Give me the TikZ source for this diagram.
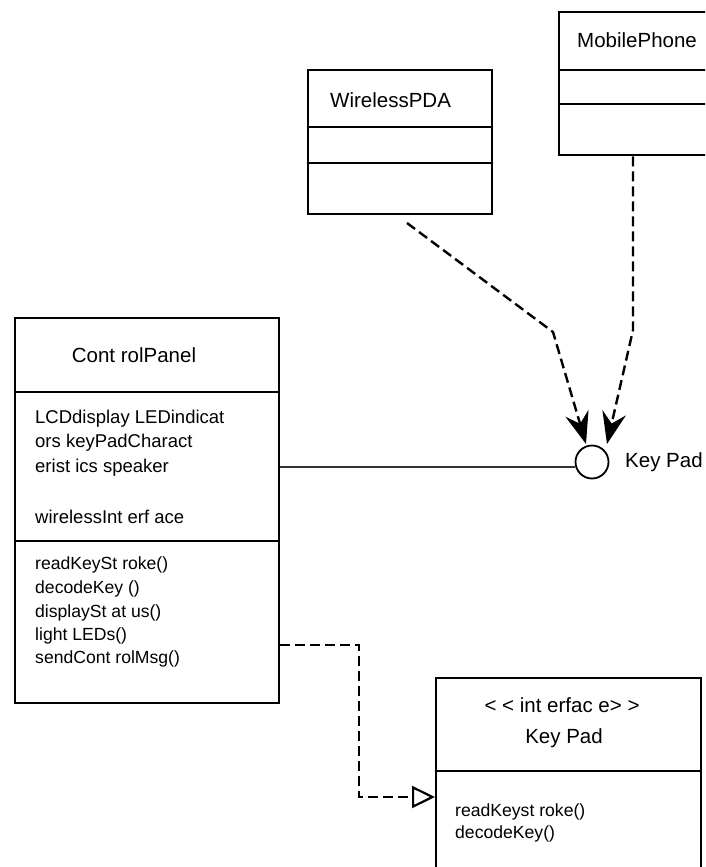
\documentclass[tikz,border=0pt]{standalone}
\usepackage{fontspec}
\setmainfont{Liberation Sans}
\usetikzlibrary{arrows.meta}
\begin{document}
\begin{tikzpicture}[x=1pt,y=-1pt,
  box/.style={draw, line width=2.4pt, rectangle, inner sep=0pt, anchor=north west},
  ttl/.style={font=\fontsize{20.5}{24}\selectfont, inner sep=0pt},
  attr/.style={font=\fontsize{18.5}{24}\selectfont, inner sep=0pt, anchor=base west},
  meth/.style={font=\fontsize{17.6}{24}\selectfont, inner sep=0pt, anchor=base west},
  dep/.style={draw, line width=2.4pt, dash pattern=on 10pt off 5pt, -{Stealth[length=32pt,width=24pt,inset=11pt]}},
  real/.style={draw, line width=2.4pt, dash pattern=on 10pt off 5pt, -{Triangle[open, length=23pt, width=22pt, line width=2.2pt]}},
  sep/.style={line width=2.4pt}]
\clip (0,0) rectangle (705,867);
\fill[white] (0,0) rectangle (705,867);

% WirelessPDA
\node[box, minimum width=184pt, minimum height=144pt] (wpda) at (307,69) {};
\draw[sep] (wpda.west |- 0,127) -- (wpda.east |- 0,127);
\draw[sep] (wpda.west |- 0,163) -- (wpda.east |- 0,163);
\node[ttl, anchor=base west] (wpdaT) at (330,107) {WirelessPDA};

% MobilePhone
\node[box, minimum width=250pt, minimum height=143pt] (mp) at (558,11) {};
\draw[sep] (mp.west |- 0,70) -- (mp.east |- 0,70);
\draw[sep] (mp.west |- 0,104) -- (mp.east |- 0,104);
\node[ttl, anchor=base west] (mpT) at (577,48) {MobilePhone};

% ControlPanel
\node[box, minimum width=264pt, minimum height=385pt] (cp) at (14,317) {};
\draw[sep] (cp.west |- 0,392) -- (cp.east |- 0,392);
\draw[sep] (cp.west |- 0,541) -- (cp.east |- 0,541);
\node[ttl, anchor=base] (cpT) at (134,362) {Cont rolPanel};
\node[attr] (cpa1) at (35,423) {LCDdisplay LEDindicat};
\node[attr] (cpa2) at (35,447) {ors keyPadCharact};
\node[attr] (cpa3) at (35,472) {erist ics speaker};
\node[attr] (cpa4) at (35,523) {wirelessInt erf ace};
\node[meth] (cpm1) at (35,569) {readKeySt roke()};
\node[meth] (cpm2) at (35,593) {decodeKey ()};
\node[meth] (cpm3) at (35,617) {displaySt at us()};
\node[meth] (cpm4) at (35,640) {light LEDs()};
\node[meth] (cpm5) at (35,663) {sendCont rolMsg()};

% Interface KeyPad
\node[box, minimum width=265pt, minimum height=250pt] (ikp) at (435,677) {};
\draw[sep] (ikp.west |- 0,771) -- (ikp.east |- 0,771);
\node[ttl, anchor=base] (ikpS) at (562,712) {< < int erfac e> >};
\node[ttl, anchor=base] (ikpT) at (564,743) {Key Pad};
\node[meth] (ikpm1) at (455,816) {readKeyst roke()};
\node[meth] (ikpm2) at (455,838) {decodeKey()};

% Lollipop interface
\node[draw, circle, line width=1.8pt, minimum size=33pt, inner sep=0pt] (kp) at (592,462) {};
\node[ttl, anchor=base west] (kpL) at (625,467) {Key Pad};
\draw[line width=2.4pt, draw=black!80] (cp.east |- kp.196) -- (kp.196);

% dependencies
\coordinate (wstart) at (407,223);
\coordinate (wbend) at (553,332);
\coordinate (tipA) at (586,444);
\draw[dep] (wstart) -- (wbend) -- (tipA);
\coordinate (mbend) at (633,330);
\coordinate (tipB) at (607,444);
\draw[dep] (mp.south -| mbend) -- (mbend) -- (tipB);

% realization
\coordinate (rb) at (359,797);
\draw[real] (cp.east |- 0,645) -| (rb) -- (ikp.west |- rb);
\end{tikzpicture}
\end{document}
